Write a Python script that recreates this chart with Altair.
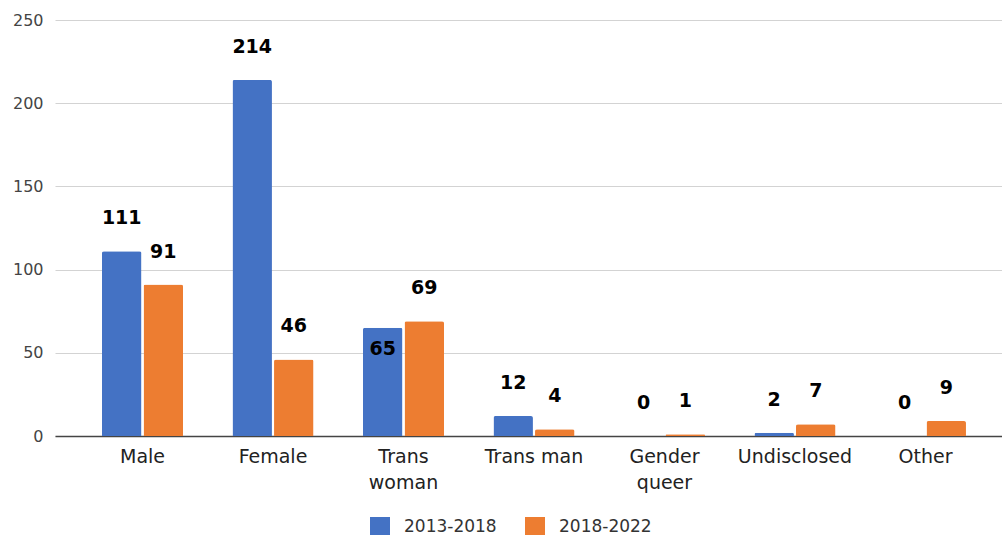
import altair as alt
import pandas as pd

categories = ["Male", "Female", "Trans woman", "Trans man", "Gender queer", "Undisclosed", "Other"]
series_names = ["2013-2018", "2018-2022"]
values_2013_2018 = [111, 214, 65, 12, 0, 2, 0]
values_2018_2022 = [91, 46, 69, 4, 1, 7, 9]
y_ticks = [0, 50, 100, 150, 200, 250]
colors = ["#4472C4", "#ED7D31"]

rows = []
for c, a, b in zip(categories, values_2013_2018, values_2018_2022):
    rows.append({"category": c, "series": series_names[0], "value": a})
    rows.append({"category": c, "series": series_names[1], "value": b})
df = pd.DataFrame(rows)

x_enc = alt.X(
    "category:N",
    sort=categories,
    title=None,
    scale=alt.Scale(paddingInner=0.379, paddingOuter=0.318, align=0.566),
    axis=alt.Axis(
        labelAngle=0,
        labelFont="DejaVu Sans",
        labelFontSize=19,
        labelColor="#222222",
        labelPadding=11,
        labelLineHeight=26,
        ticks=False,
        domain=True,
        domainColor="#444444",
        domainWidth=1.5,
        grid=False,
        labelExpr="indexof(['Trans woman','Gender queer'], datum.label) >= 0 ? split(datum.label, ' ') : datum.label",
    ),
)
xoff = alt.XOffset("series:N", sort=series_names, scale=alt.Scale(paddingInner=0.05))
y_enc = alt.Y(
    "value:Q",
    title=None,
    scale=alt.Scale(domain=[0, 250], nice=False),
    axis=alt.Axis(
        values=y_ticks,
        labelFont="DejaVu Sans",
        labelFontSize=16,
        labelColor="#444444",
        labelPadding=12,
        ticks=False,
        domain=False,
        gridColor="#d3d3d3",
        gridWidth=1.2,
    ),
)

base = alt.Chart(df)

bars = base.mark_bar(cornerRadiusTopLeft=2, cornerRadiusTopRight=2).encode(
    x=x_enc,
    xOffset=xoff,
    y=y_enc,
    color=alt.Color(
        "series:N",
        sort=series_names,
        scale=alt.Scale(domain=series_names, range=colors),
        legend=alt.Legend(
            orient="none",
            legendX=315,
            legendY=497,
            direction="horizontal",
            title=None,
            symbolType="square",
            symbolSize=400,
            symbolStrokeWidth=0,
            labelFont="DejaVu Sans",
            labelFontSize=17,
            labelColor="#333333",
            labelOffset=14,
            columnPadding=28,
        ),
    ),
)

exception = "datum.category == 'Trans woman' && datum.series == '2013-2018'"

labels = base.transform_filter("!(" + exception + ")").mark_text(
    font="DejaVu Sans", fontWeight="bold", fontSize=19, color="black", baseline="middle", dy=-33
).encode(x=x_enc, xOffset=xoff, y=y_enc, text="value:Q")

labels_inside = base.transform_filter(exception).mark_text(
    font="DejaVu Sans", fontWeight="bold", fontSize=19, color="black", baseline="middle", dy=21
).encode(x=x_enc, xOffset=xoff, y=y_enc, text="value:Q")

chart = (
    alt.layer(bars, labels, labels_inside)
    .properties(
        width=947,
        height=416,
        background="white",
        autosize=alt.AutoSizeParams(type="none"),
        padding={"left": 55, "top": 20, "right": 0, "bottom": 99},
    )
    .configure_view(strokeWidth=0, stroke="transparent")
)

chart.save("out.html", embed_options={"renderer": "svg", "actions": False})
